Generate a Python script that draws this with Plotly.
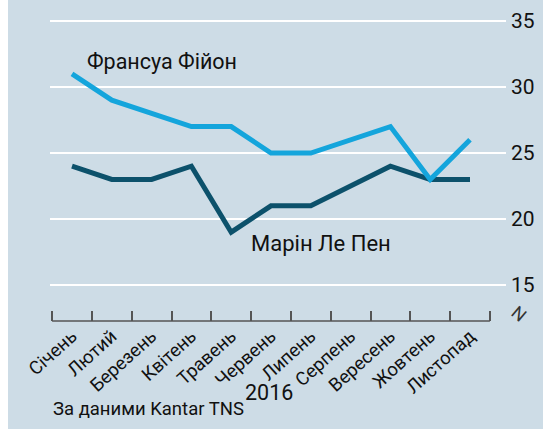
import plotly.graph_objects as go

months = ["Січень", "Лютий", "Березень", "Квітень", "Травень", "Червень",
          "Липень", "Серпень", "Вересень", "Жовтень", "Листопад"]
fillon = [31, 29, 28, 27, 27, 25, 25, 26, 27, 23, 26]
le_pen = [24, 23, 23, 24, 19, 21, 21, 22.5, 24, 23, 23]
y_ticks = [15, 20, 25, 30, 35]
year_label = "2016"
source = "За даними Kantar TNS"
name_fillon = "Франсуа Фійон"
name_le_pen = "Марін Ле Пен"

W, H = 543, 429
L, R, T, B = 50, 37, 0, 108
PW, PH = W - L - R, H - T - B

BG = "#cddce6"
C_FILLON = "#14a5dc"
C_LEPEN = "#0c516b"
FONT = "Roboto, sans-serif"
TXT = "#111111"

# x scale: first point at 72px, spacing 39.8px
k = 39.8
x0 = -(72 - L) / k
x1 = x0 + PW / k
# y scale: 35 at 21px, 15 at 285px
ky = (285 - 21) / 20.0
y1 = 35 + 21 / ky
y0 = 15 - (T + PH - 285) / ky

def px2x(p):
    return x0 + (p - L) / k

def px2y(p):
    return y1 - (p - T) / ky

def pxx(p):
    return (p - L) / PW

def pxy(p):
    return 1 - (p - T) / PH

xs = list(range(len(months)))
edges = [i - 0.5 for i in range(len(months) + 1)]

fig = go.Figure()
fig.add_trace(go.Scatter(x=xs, y=le_pen, mode="lines",
                         line=dict(color=C_LEPEN, width=5), showlegend=False, hoverinfo="skip"))
fig.add_trace(go.Scatter(x=xs, y=fillon, mode="lines",
                         line=dict(color=C_FILLON, width=5), showlegend=False, hoverinfo="skip"))

fig.update_layout(
    template="none",
    width=W, height=H,
    margin=dict(l=L, r=R, t=T, b=B, pad=0),
    paper_bgcolor=BG, plot_bgcolor=BG,
    font=dict(family=FONT, color=TXT),
    xaxis=dict(range=[x0, x1], tickvals=edges, showticklabels=False,
               ticks="inside", ticklen=10, tickwidth=1.5, tickcolor="#555555",
               showgrid=False, zeroline=False, showline=False, automargin=False),
    xaxis2=dict(range=[x0, x1], overlaying="x", anchor="y", side="bottom",
                tickvals=xs, ticktext=months, tickangle=-42, ticks="",
                showgrid=False, zeroline=False, showline=False, automargin=False,
                tickfont=dict(size=18.5, color=TXT, family=FONT)),
    yaxis=dict(range=[y0, y1], side="right", tickvals=y_ticks,
               showgrid=True, gridcolor="white", gridwidth=2,
               zeroline=False, showline=False, ticks="", ticklabelstandoff=4,
               automargin=False,
               tickfont=dict(size=21, color=TXT, family=FONT)),
    shapes=[
        dict(type="rect", xref="paper", yref="paper",
             x0=pxx(0), x1=pxx(8), y0=pxy(H), y1=1.0,
             fillcolor="white", line=dict(width=0), layer="below"),
        dict(type="line", xref="x", yref="paper", x0=edges[0], x1=edges[-1], y0=0, y1=0,
             line=dict(color="#555555", width=1.5), layer="above"),
    ],
    annotations=[
        dict(text=name_fillon, x=px2x(162), y=px2y(61), xref="x", yref="y",
             xanchor="center", yanchor="middle",
             showarrow=False, font=dict(size=21.5, color=TXT)),
        dict(text=name_le_pen, x=px2x(321), y=px2y(243), xref="x", yref="y",
             xanchor="center", yanchor="middle",
             showarrow=False, font=dict(size=22, color=TXT)),
        dict(text=year_label, x=pxx(269), y=pxy(392), xref="paper", yref="paper",
             xanchor="center", yanchor="middle",
             showarrow=False, font=dict(size=21.5, color=TXT)),
        dict(text=source, x=pxx(51), y=pxy(409), xref="paper", yref="paper",
             xanchor="left", yanchor="middle",
             showarrow=False, font=dict(size=18.5, color=TXT)),
        dict(text="N", x=pxx(519), y=pxy(313), xref="paper", yref="paper",
             xanchor="center", yanchor="middle",
             showarrow=False, textangle=40, font=dict(size=18, color="#333333")),
    ],
)

# a dummy trace so the label axis is drawn
fig.add_trace(go.Scatter(x=[None], y=[None], xaxis="x2", yaxis="y",
                         showlegend=False, hoverinfo="skip"))

fig.write_html("out.html",
               config={"displayModeBar": False},
               post_script="document.body.style.margin='0';"
                           "document.documentElement.style.overflow='hidden';")
